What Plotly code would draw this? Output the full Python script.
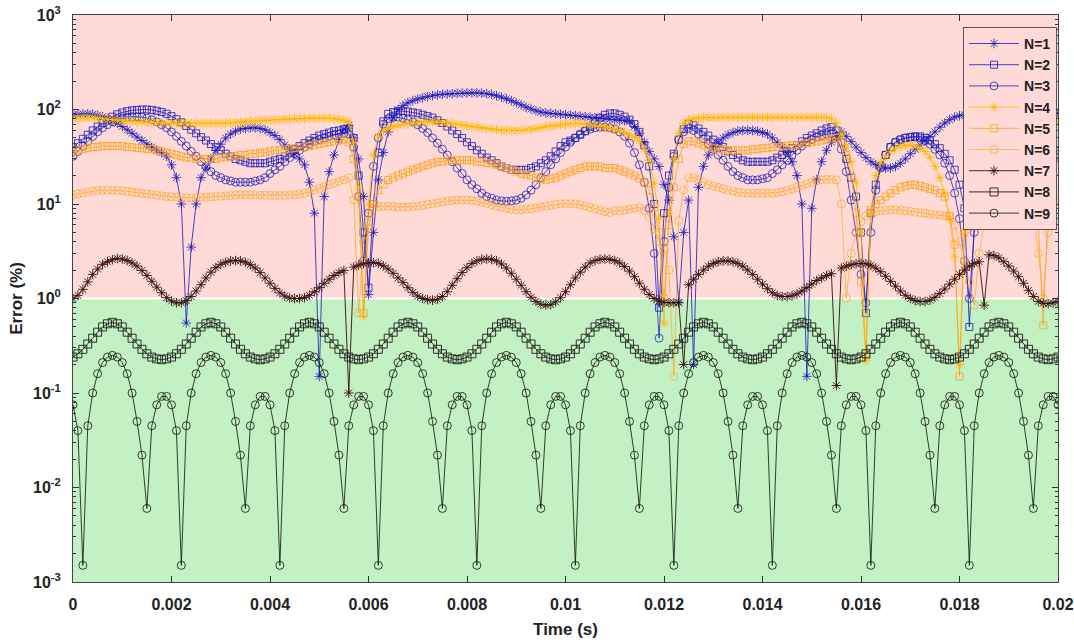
import plotly.graph_objects as go

# sample times (s): 0 .. 0.02 in steps of 0.0001
time_s = [round(i * 0.0001, 4) for i in range(201)]

err_n1 = [88,89,90,90,89,87,84,80,76,71,
          66,61,56,51,47,43,40,37,35,32,
          26,19,10,0.55,3.5,10,19,24,30,37,
          43,50,55,59,62,63,64,64,63,61,
          57,53,48,42,38,34,30,26,17,8,
          0.15,12,22,33,48,62,68,50,30,12,
          1.1,5,18,35,58,82,100,110,118,124,
          129,133,137,140,143,145,146,147,148,149,
          150,150,150,149,147,144,140,135,130,124,
          118,112,106,101,97,94,92,91,90,89,
          88,87,86,85,84,83,82,81,80,79,
          78,77,76,75,66,56,45,36,30,25,
          16,11,4.5,0.9,5,11,0.2,15,25,33,
          40,45,50,54,57,59,60,60,60,59,
          57,55,50,45,40,35,28,20,10,0.15,
          9,18,28,37,45,52,58,52,46,40,
          35,31,28,26,25,24,24,25,27,30,
          34,38,42,47,52,58,65,72,78,83,
          86,88,90,91,91,91,90,89,88,88,
          88,88,88,89,89,90,90,91,91,92,
          92]

err_n2 = [40,44,49,54,60,66,72,78,84,89,
          93,96,98,99,100,100,99,97,94,90,
          85,79,73,67,61,56,51,47,43,40,
          37,34,32,30,29,28,27,27,27,27,
          28,29,30,32,35,38,41,44,47,50,
          53,55,57,59,60,62,63,50,20,5,
          1.3,10,35,75,90,94,96,96,95,93,
          91,88,85,82,77,72,66,60,55,50,
          45,41,37,34,31,29,27,25,24,23,
          23,23,23,24,25,27,29,32,36,41,
          45,47,50,54,59,66,74,82,88,91,
          91,88,84,78,70,58,42,25,10,0.8,
          8,20,34,48,62,70,68,63,58,53,
          48,44,40,36,33,31,29,28,28,28,
          28,28,29,31,33,36,39,42,46,50,
          53,56,60,63,65,60,45,30,19,12,
          5,0.7,8,16,25,33,40,45,48,50,
          51,52,52,50,47,43,39,34,29,23,
          16,9,0.5,6,12,16,19,21,23,24,
          25,26,27,28,29,30,31,32,34,35,
          37]

err_n3 = [32,36,41,46,52,58,64,69,74,78,
          81,83,84,84,83,81,78,74,69,64,
          58,52,46,41,36,32,28,25,22,20,
          19,18,17.5,17,17,17,17,17.5,18,19,
          21,23,25,28,31,34,37,40,43,46,
          48,50,52,54,55,56,55,40,12,2.5,
          8,25,50,70,80,83,83,81,78,74,
          69,63,57,50,44,38,33,28,24,21,
          18,16,14.5,13,12,11.5,11,10.8,10.7,10.8,
          11,11.5,12.5,14,16,19,22,26,30,35,
          40,45,50,55,59,62,64,65,65,64,
          62,58,52,44,35,26,17,9,3,0.38,
          4,15,32,48,58,63,60,55,49,43,
          38,33,29,25,22,20,19,18,18,18,
          18.5,19,21,23,26,29,33,37,41,45,
          48,51,53,55,56,52,38,22,11,5,
          1.8,0.9,5,14,24,33,40,45,48,50,
          51,51,50,47,43,38,33,27,20,13,
          7,2.5,1.0,5,10,14,17,19,21,22,
          23,24,25,26,27,28,29,29,30,30,
          31]

err_n4 = [80,81,82,82,82,81,80,79,78,77,
          76,75,75,74,74,73,73,73,72,72,
          72,72,71,71,71,71,71,71,71,71,
          71,72,72,73,73,74,75,75,76,77,
          77,78,78,79,79,80,80,80,81,81,
          81,81,81,80,79,77,74,45,15,0.65,
          10,33,52,60,63,66,68,70,71,72,
          73,74,74,74,74,73,72,71,70,69,
          67,66,65,64,63,62,61,60,60,60,
          60,60,61,62,63,64,66,67,68,69,
          70,71,71,71,70,69,68,67,66,64,
          62,60,57,54,51,47,38,29,16.6,7,
          0.55,8,30,56,72,78,80,81,82,82,
          82,82,83,83,83,83,83,83,83,83,
          83,83,83,83,83,83,83,83,83,83,
          83,83,83,82,80,72,55,40,28,17,
          5,0.22,8,20,27,32,36,39,41,42,
          42,41,39,36,31,25,19,13,7,2.8,
          0.2,5,15,30,45,55,62,66,69,71,
          72,73,73,74,74,74,74,74,74,74,
          74]

err_n5 = [36,37,38,39,40,40,41,41,41,41,
          41,40,40,39,39,38,38,37,36,35,
          34,33,32,31,31,30,30,30,30,30,
          31,31,32,32,33,33,34,34,35,35,
          36,37,37,38,38,39,40,40,41,42,
          43,44,45,46,47,48,45,30,12,0.7,
          5.5,10,14,16,18,19,20,21,22,23,
          24,25,26,27,28,28,29,29,29,29,
          29,29,28,28,27,27,26,25,24,23,
          22,21,20.5,20,19,18.5,18,18.5,19,20,
          21,22,23,24,25,25,25,25,24,24,
          24,23,22,21,20,18.6,17,14,9.3,5,
          1.0,6,15,30,43,46,46,44,42,40,
          39,38,38,37,37,37,37,37,38,38,
          39,39,40,40,41,41,42,42,43,44,
          45,46,47,48,49,50,45,33,20,8,
          1.5,0.25,8.6,10,11,12,13,14,15,15.5,
          16,16,15.5,15,14.5,14,13,12,7.5,3.7,
          0.15,5,12,18,24,28,32,35,37,38,
          38,37,35,32,27,18,6,0.52,10,28,
          36]

err_n6 = [12.5,12.8,13.1,13.4,13.7,13.9,14,14,14,13.9,
          13.8,13.6,13.4,13.2,13,12.8,12.6,12.4,12.2,12,
          11.9,11.8,11.7,11.6,11.6,11.6,11.7,11.8,11.9,12,
          12.1,12.2,12.3,12.4,12.5,12.5,12.5,12.5,12.4,12.4,
          12.3,12.3,12.3,12.3,12.4,12.5,12.7,13,13.4,14,
          14.6,15.3,16,16.6,17.3,18,19,11,0.7,4,
          7.5,9,9.4,9.5,9.5,9.4,9.3,9.3,9.3,9.4,
          9.5,9.7,9.9,10.1,10.3,10.5,10.7,10.9,11,11,
          11,10.9,10.7,10.4,10.1,9.8,9.5,9.2,9,8.8,
          8.7,8.7,8.8,8.9,9.1,9.3,9.5,9.7,9.9,10,
          10.1,10.1,10,9.8,9.5,9.2,8.9,8.6,8.3,8.1,
          8.5,8.5,8.6,8.8,9,9.2,8.5,7.4,5.5,4,
          3.3,2,0.15,6.7,14,19,19,18,17,16,
          15.5,15,14.5,14,13.6,13.3,13.1,13,13,13,
          13,13,13,13.2,13.5,13.9,14.4,15,15.6,16.3,
          17,17.6,18,18.2,18.2,18,10,1.0,3,5,
          6.5,7.5,8,8.3,8.5,8.6,8.7,8.7,8.6,8.5,
          8.4,8.2,8.1,8,7.8,7.7,7.6,7.5,7.4,6,
          4,2.5,1.5,0.85,3,6,8,9.5,10.5,11,
          11.5,11.8,12,12,11.5,8,3,1.0,5,10,
          12.4]

err_n7 = [1.00,1.08,1.25,1.5,1.8,2.05,2.3,2.45,2.58,2.65,
          2.62,2.52,2.38,2.2,1.98,1.75,1.52,1.32,1.15,1.02,
          0.94,0.9,0.9,0.95,1.05,1.2,1.4,1.65,1.9,2.12,
          2.3,2.42,2.5,2.52,2.5,2.42,2.28,2.1,1.88,1.65,
          1.45,1.28,1.15,1.06,1.01,1.0,1.0,1.02,1.08,1.18,
          1.3,1.45,1.6,1.75,1.88,1.98,0.10,2.15,2.25,2.33,
          2.38,2.4,2.35,2.22,2.05,1.85,1.65,1.48,1.3,1.16,
          1.06,1.0,0.97,0.96,0.98,1.05,1.18,1.38,1.62,1.88,
          2.12,2.35,2.5,2.6,2.62,2.6,2.5,2.32,2.1,1.85,
          1.6,1.38,1.18,1.03,0.93,0.87,0.85,0.86,0.92,1.02,
          1.18,1.4,1.65,1.9,2.15,2.38,2.52,2.6,2.62,2.6,
          2.52,2.38,2.18,1.95,1.7,1.45,1.25,1.1,1.0,0.94,
          0.91,0.9,0.9,0.91,0.2,1.4,1.6,1.8,2.0,2.2,
          2.35,2.45,2.5,2.5,2.45,2.35,2.2,2.0,1.8,1.6,
          1.42,1.27,1.15,1.08,1.05,1.05,1.07,1.12,1.2,1.3,
          1.42,1.55,1.65,1.75,1.83,0.12,2.1,2.2,2.28,2.33,
          2.35,2.33,2.25,2.1,1.92,1.72,1.52,1.35,1.2,1.08,
          1.0,0.95,0.93,0.93,0.96,1.03,1.13,1.26,1.42,1.6,
          1.8,2.0,2.2,2.35,2.45,0.85,2.9,2.85,2.7,2.45,
          2.2,1.95,1.7,1.45,1.22,1.05,0.93,0.89,0.88,0.9,
          0.93]

err_n8 = [0.24,0.26,0.29,0.33,0.38,0.44,0.50,0.54,0.56,0.54,0.50,0.44,0.38,0.33,0.29,0.26,0.24,0.23,0.225,0.23,
          0.24,0.26,0.29,0.33,0.38,0.44,0.50,0.54,0.56,0.54,0.50,0.44,0.38,0.33,0.29,0.26,0.24,0.23,0.225,0.23,
          0.24,0.26,0.29,0.33,0.38,0.44,0.50,0.54,0.56,0.54,0.50,0.44,0.38,0.33,0.29,0.26,0.24,0.23,0.225,0.23,
          0.24,0.26,0.29,0.33,0.38,0.44,0.50,0.54,0.56,0.54,0.50,0.44,0.38,0.33,0.29,0.26,0.24,0.23,0.225,0.23,
          0.24,0.26,0.29,0.33,0.38,0.44,0.50,0.54,0.56,0.54,0.50,0.44,0.38,0.33,0.29,0.26,0.24,0.23,0.225,0.23,
          0.24,0.26,0.29,0.33,0.38,0.44,0.50,0.54,0.56,0.54,0.50,0.44,0.38,0.33,0.29,0.26,0.24,0.23,0.225,0.23,
          0.24,0.26,0.29,0.33,0.38,0.44,0.50,0.54,0.56,0.54,0.50,0.44,0.38,0.33,0.29,0.26,0.24,0.23,0.225,0.23,
          0.24,0.26,0.29,0.33,0.38,0.44,0.50,0.54,0.56,0.54,0.50,0.44,0.38,0.33,0.29,0.26,0.24,0.23,0.225,0.23,
          0.24,0.26,0.29,0.33,0.38,0.44,0.50,0.54,0.56,0.54,0.50,0.44,0.38,0.33,0.29,0.26,0.24,0.23,0.225,0.23,
          0.24,0.26,0.29,0.33,0.38,0.44,0.50,0.54,0.56,0.54,0.50,0.44,0.38,0.33,0.29,0.26,0.24,0.23,0.225,0.23,
          0.24]

err_n9 = [0.075,0.04,0.0015,0.045,0.10,0.16,0.21,0.24,0.25,0.24,0.21,0.16,0.10,0.05,0.022,0.006,0.045,0.075,0.092,0.092,
          0.075,0.04,0.0015,0.045,0.10,0.16,0.21,0.24,0.25,0.24,0.21,0.16,0.10,0.05,0.022,0.006,0.045,0.075,0.092,0.092,
          0.075,0.04,0.0015,0.045,0.10,0.16,0.21,0.24,0.25,0.24,0.21,0.16,0.10,0.05,0.022,0.006,0.045,0.075,0.092,0.092,
          0.075,0.04,0.0015,0.045,0.10,0.16,0.21,0.24,0.25,0.24,0.21,0.16,0.10,0.05,0.022,0.006,0.045,0.075,0.092,0.092,
          0.075,0.04,0.0015,0.045,0.10,0.16,0.21,0.24,0.25,0.24,0.21,0.16,0.10,0.05,0.022,0.006,0.045,0.075,0.092,0.092,
          0.075,0.04,0.0015,0.045,0.10,0.16,0.21,0.24,0.25,0.24,0.21,0.16,0.10,0.05,0.022,0.006,0.045,0.075,0.092,0.092,
          0.075,0.04,0.0015,0.045,0.10,0.16,0.21,0.24,0.25,0.24,0.21,0.16,0.10,0.05,0.022,0.006,0.045,0.075,0.092,0.092,
          0.075,0.04,0.0015,0.045,0.10,0.16,0.21,0.24,0.25,0.24,0.21,0.16,0.10,0.05,0.022,0.006,0.045,0.075,0.092,0.092,
          0.075,0.04,0.0015,0.045,0.10,0.16,0.21,0.24,0.25,0.24,0.21,0.16,0.10,0.05,0.022,0.006,0.045,0.075,0.092,0.092,
          0.075,0.04,0.0015,0.045,0.10,0.16,0.21,0.24,0.25,0.24,0.21,0.16,0.10,0.05,0.022,0.006,0.045,0.075,0.092,0.092,
          0.075]

series_names = ["N=1", "N=2", "N=3", "N=4", "N=5", "N=6", "N=7", "N=8", "N=9"]
series_values = [err_n1, err_n2, err_n3, err_n4, err_n5, err_n6, err_n7, err_n8, err_n9]
series_colors = ["rgba(25,25,185,0.8)", "rgba(25,25,185,0.8)", "rgba(25,25,185,0.75)",
                 "rgba(255,185,0,0.85)", "rgba(255,160,25,0.8)", "rgba(255,165,40,0.7)",
                 "rgba(55,15,15,0.9)", "rgba(20,20,20,0.85)", "rgba(20,30,20,0.85)"]
series_symbols = ["asterisk-open", "square-open", "circle-open"] * 3
series_sizes = [8, 7, 8, 8, 7, 8, 8, 8, 8]

ytick_vals = [1e-3, 1e-2, 1e-1, 1e0, 1e1, 1e2, 1e3]
ytick_text = ["10<sup>-3</sup>", "10<sup>-2</sup>", "10<sup>-1</sup>", "10<sup>0</sup>",
              "10<sup>1</sup>", "10<sup>2</sup>", "10<sup>3</sup>"]
xtick_vals = [0, 0.002, 0.004, 0.006, 0.008, 0.01, 0.012, 0.014, 0.016, 0.018, 0.02]
xtick_text = ["0", "0.002", "0.004", "0.006", "0.008", "0.01", "0.012", "0.014", "0.016", "0.018", "0.02"]

for nm, v in zip(series_names, series_values):
    assert len(v) == len(time_s), (nm, len(v))

FONT = "Liberation Sans, Arial, sans-serif"

fig = go.Figure()
for nm, vals, col, sym, sz in zip(series_names, series_values, series_colors, series_symbols, series_sizes):
    fig.add_trace(go.Scatter(
        x=time_s, y=vals, name=nm, mode="lines+markers",
        line=dict(color=col, width=1),
        marker=dict(symbol=sym, size=sz, color=col, line=dict(color=col, width=1)),
    ))

fig.update_layout(
    width=1074, height=644,
    margin=dict(l=73, r=16, t=15, b=62),
    paper_bgcolor="white", plot_bgcolor="white",
    font=dict(family=FONT, color="#222"),
    shapes=[
        dict(type="rect", xref="paper", yref="paper", x0=0, x1=1, y0=0, y1=0.5,
             fillcolor="#C3F1C3", line=dict(width=0), layer="below"),
        dict(type="rect", xref="paper", yref="paper", x0=0, x1=1, y0=0.5, y1=1,
             fillcolor="#FFDAD7", line=dict(width=0), layer="below"),
        dict(type="line", xref="paper", yref="paper", x0=0, x1=1, y0=0.5, y1=0.5,
             line=dict(color="white", width=1.5), layer="below"),
    ],
    legend=dict(
        x=0.999, y=0.979, xanchor="right", yanchor="top",
        bgcolor="#FFDAD7", bordercolor="#555", borderwidth=1,
        font=dict(family=FONT, size=14, color="#222", weight="bold"),
        itemwidth=50, tracegroupgap=0,
    ),
    xaxis=dict(
        range=[0, 0.02], tickmode="array", tickvals=xtick_vals, ticktext=xtick_text,
        ticks="inside", ticklen=6, tickcolor="#333", showgrid=False, zeroline=False,
        showline=True, mirror="ticks", linecolor="#444", linewidth=1, automargin=False,
        ticklabelstandoff=8, ticklabeloverflow="allow",
        tickfont=dict(family=FONT, size=16, color="#222", weight="bold"),
        title=dict(text="Time (s)", font=dict(family=FONT, size=17, color="#222", weight="bold"), standoff=10),
    ),
    yaxis=dict(
        type="log", range=[-3, 3], tickmode="array", tickvals=ytick_vals, ticktext=ytick_text,
        ticks="inside", ticklen=6, tickcolor="#333", showgrid=False, zeroline=False,
        showline=True, mirror="ticks", linecolor="#444", linewidth=1, automargin=False,
        ticklabelstandoff=8, ticklabeloverflow="allow",
        minor=dict(tickvals=[m * 10 ** e for e in range(-3, 3) for m in range(2, 10)],
                   ticks="inside", ticklen=3, tickcolor="#333", showgrid=False),
        tickfont=dict(family=FONT, size=16, color="#222", weight="bold"),
        title=dict(text="Error (%)", font=dict(family=FONT, size=17, color="#222", weight="bold"), standoff=6),
    ),
)

# remove the default 8px page margin so the figure fills the window exactly
fig.write_html("out.html", config={"displayModeBar": False},
               post_script="document.body.style.margin='0';")
